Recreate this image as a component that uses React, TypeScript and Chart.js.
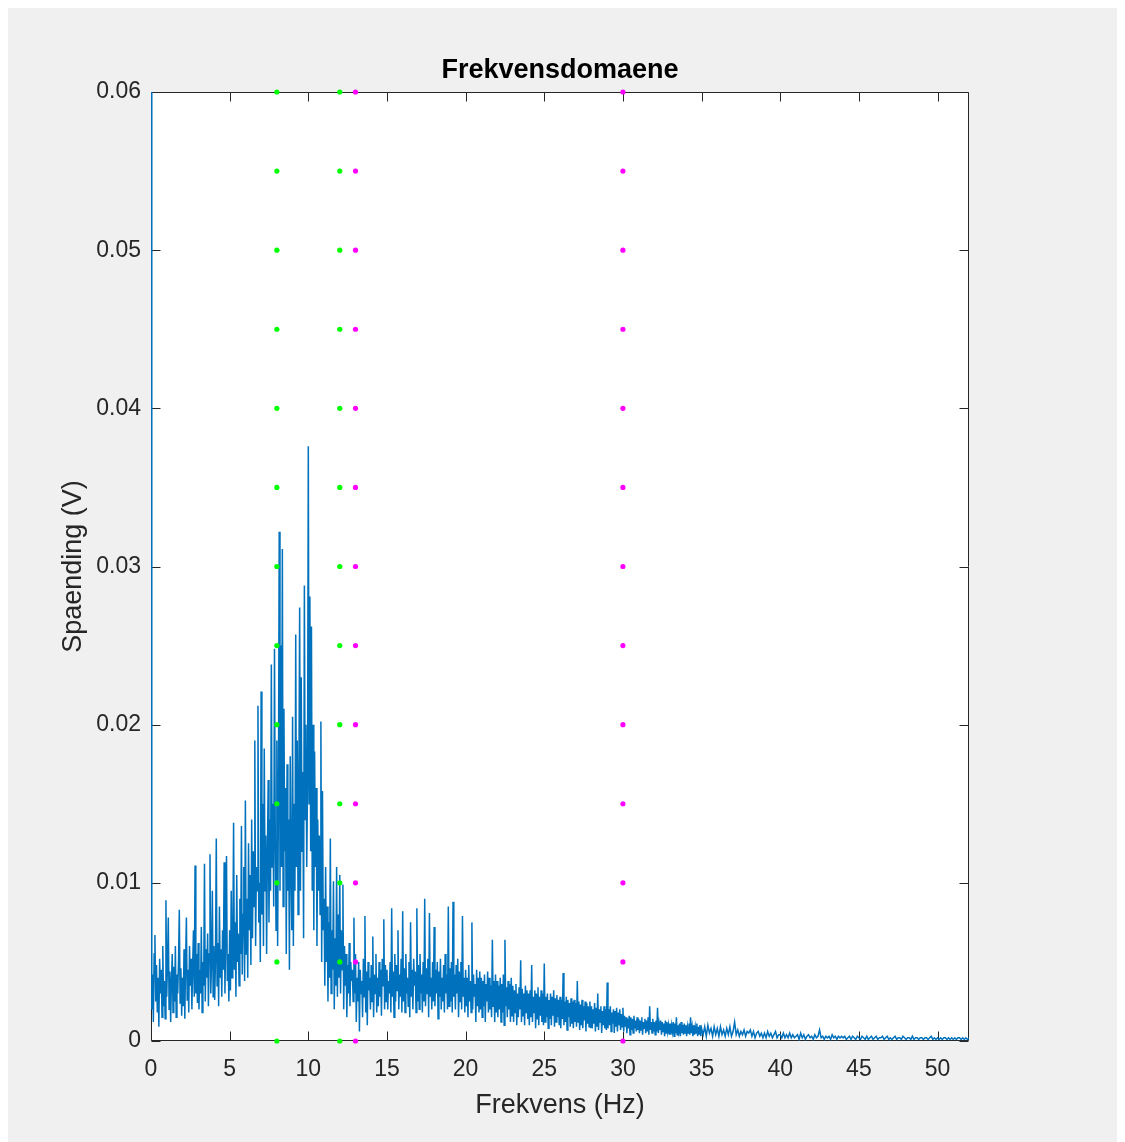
import React, { useEffect, useRef } from 'react';
import { Chart, registerables } from 'chart.js';

Chart.register(...registerables);

// ---- texts ----
const titleText = 'Frekvensdomaene';
const xLabel = 'Frekvens (Hz)';
const yLabel = 'Spaending (V)';

// ---- axes ----
const xMin = 0;
const xMax = 52;
const xTickStep = 5;
const yMin = 0;
const yMax = 0.06;
const yTickStep = 0.01;

// ---- spectrum values, in units of 1e-4 V ----
const amplitudeUnit = 1e-4;
// dense part: one value every 0.05 Hz from 0 Hz up to 34.95 Hz (20 values per Hz row)
const denseStartHz = 0;
const denseStepHz = 0.05;
// tail: one value every 0.1 Hz from 35 Hz to 52 Hz
const tailStartHz = 35;
const tailStepHz = 0.1;

const spectrum0to12 = [
  700, 20, 42, 12, 55, 67, 25, 48, 18, 40, 9, 52, 30, 45, 15, 60, 22, 38, 14, 89,
  28, 50, 78, 20, 44, 12, 38, 55, 18, 47, 25, 60, 15, 42, 30, 50, 83, 24, 46, 16,
  40, 22, 58, 14, 50, 78, 26, 45, 18, 60, 35, 52, 20, 48, 70, 28, 111, 30, 55, 24,
  62, 20, 45, 30, 72, 18, 50, 35, 112, 25, 58, 40, 68, 22, 55, 118, 30, 50, 95, 28,
  60, 26, 52, 128, 35, 62, 22, 85, 40, 58, 28, 70, 45, 113, 30, 65, 117, 38, 55, 25,
  70, 32, 95, 40, 60, 138, 45, 75, 28, 105, 50, 68, 35, 90, 55, 136, 42, 80, 110, 38,
  152, 55, 90, 40, 125, 70, 105, 48, 140, 65, 120, 85, 190, 60, 110, 95, 212, 75, 100, 50,
  221, 80, 150, 60, 185, 95, 130, 55, 120, 165, 75, 140, 95, 238, 110, 150, 85, 248, 130, 70,
  190, 60, 150, 322, 95, 250, 110, 311, 85, 210, 120, 160, 55, 175, 95, 140, 45, 180, 110, 70,
  205, 60, 150, 95, 257, 110, 190, 80, 160, 274, 95, 230, 120, 170, 65, 288, 140, 200, 110, 160,
  376, 150, 281, 120, 262, 95, 200, 70, 183, 110, 160, 60, 140, 95, 130, 80, 202, 50, 158, 70,
  90, 35, 110, 50, 85, 25, 75, 40, 128, 30, 70, 45, 101, 20, 65, 35, 110, 28, 80, 40,
];

const spectrum12to24 = [
  105, 30, 70, 45, 99, 20, 60, 35, 55, 15, 48, 30, 62, 22, 50, 38, 45, 25, 78, 30,
  55, 12, 40, 25, 50, 6, 45, 30, 38, 15, 52, 28, 79, 18, 44, 10, 50, 32, 40, 20,
  48, 25, 66, 15, 42, 30, 55, 18, 40, 22, 50, 28, 45, 16, 52, 35, 77, 20, 48, 25,
  45, 20, 38, 30, 50, 18, 84, 28, 44, 15, 55, 25, 48, 32, 70, 20, 42, 28, 52, 18,
  82, 25, 46, 18, 55, 30, 40, 22, 50, 15, 75, 28, 45, 20, 52, 35, 44, 18, 84, 25,
  48, 20, 55, 30, 42, 18, 50, 25, 90, 22, 46, 30, 52, 15, 81, 28, 40, 20, 50, 25,
  72, 22, 45, 30, 50, 14, 44, 28, 52, 20, 40, 25, 48, 18, 55, 30, 42, 20, 85, 22,
  46, 25, 50, 18, 88, 28, 42, 20, 48, 30, 52, 15, 44, 25, 50, 20, 79, 28, 40, 18,
  45, 22, 40, 15, 48, 25, 38, 18, 75, 20, 42, 28, 36, 12, 45, 22, 40, 18, 44, 20,
  40, 15, 38, 22, 42, 12, 36, 25, 44, 18, 40, 20, 35, 15, 64, 22, 38, 12, 42, 18,
  38, 15, 35, 20, 40, 12, 36, 18, 42, 10, 64, 22, 34, 15, 38, 20, 36, 12, 40, 16,
  35, 12, 32, 18, 36, 10, 30, 15, 34, 20, 51, 12, 33, 16, 30, 10, 35, 18, 32, 14,
];

const spectrum24to35 = [
  30, 10, 32, 15, 48, 12, 28, 18, 32, 8, 30, 14, 34, 10, 28, 16, 32, 12, 30, 10,
  49, 12, 28, 15, 30, 8, 26, 14, 30, 10, 28, 16, 32, 9, 27, 12, 29, 15, 26, 10,
  28, 8, 26, 14, 43, 10, 25, 12, 28, 7, 26, 15, 24, 9, 27, 11, 25, 8, 26, 12,
  24, 9, 38, 12, 25, 7, 23, 10, 26, 8, 22, 13, 25, 6, 24, 11, 22, 9, 25, 8,
  22, 8, 20, 11, 24, 6, 21, 9, 30, 7, 20, 12, 22, 5, 19, 10, 22, 8, 20, 7,
  37, 8, 20, 10, 22, 6, 18, 11, 20, 5, 19, 9, 21, 6, 18, 10, 20, 7, 17, 9,
  21, 6, 16, 9, 15, 5, 14, 8, 16, 4, 15, 7, 14, 5, 16, 8, 13, 6, 15, 7,
  14, 5, 13, 7, 15, 4, 12, 8, 14, 5, 13, 6, 15, 4, 22, 7, 12, 5, 14, 6,
  12, 4, 13, 6, 21, 5, 11, 7, 13, 4, 12, 6, 11, 3, 13, 5, 12, 6, 10, 4,
  11, 4, 10, 6, 12, 3, 11, 5, 15, 4, 10, 6, 11, 3, 12, 5, 10, 4, 11, 5,
  10, 3, 9, 5, 11, 4, 15, 5, 9, 3, 10, 4, 9, 5, 11, 3, 9, 4, 10, 3,
];

const spectrumTail = [
  8, 4, 9, 3, 10, 5, 8, 3, 9, 4,
  8, 3, 9, 4, 7, 3, 8, 4, 9, 3,
  6, 12, 4, 7, 3, 6, 4, 7, 3, 6,
  5, 7, 3, 6, 2, 5, 6, 3, 5, 2,
  5, 2, 6, 3, 5, 2, 4, 6, 2, 4,
  4, 2, 5, 2, 4, 2, 5, 2, 4, 2,
  3, 4, 1, 5, 2, 4, 1, 3, 4, 2,
  3, 1, 4, 2, 3, 7, 2, 3, 1, 3,
  2, 3, 1, 4, 2, 3, 1, 3, 2, 3,
  2, 3, 1, 2, 3, 1, 3, 2, 1, 3,
  2, 1, 3, 2, 1, 3, 1, 2, 3, 1,
  2, 3, 1, 2, 2, 3, 1, 2, 3, 1,
  2, 1, 2, 3, 1, 2, 2, 1, 3, 2,
  1, 2, 2, 1, 3, 1, 2, 2, 1, 2,
  2, 1, 2, 2, 1, 2, 3, 1, 2, 1,
  2, 1, 2, 1, 2, 2, 1, 2, 1, 2,
  1, 2, 1, 2, 2, 1, 2, 1, 2, 1,
  2,
];

// ---- marker columns ----
const greenMarkerFreqs = [8, 12];
const magentaMarkerFreqs = [13, 30];
const markerLevels = [0, 0.005, 0.01, 0.015, 0.02, 0.025, 0.03, 0.035, 0.04, 0.045, 0.05, 0.055, 0.06];

// ---- colours / fonts ----
const lineColor = '#0072BD';
const greenColor = '#00ff00';
const magentaColor = '#ff00ff';
const axisColor = '#262626';
const fontFamily = "'Liberation Sans', Arial, Helvetica, sans-serif";

const CANVAS_W = 1117;
const CANVAS_H = 1134;

const framePlugin = {
  id: 'matlabFrame',
  beforeDraw(chart: any) {
    const { ctx, chartArea: a } = chart;
    ctx.save();
    ctx.fillStyle = '#ffffff';
    ctx.fillRect(a.left, a.top, a.right - a.left, a.bottom - a.top);
    ctx.restore();
  },
  beforeDatasetsDraw(chart: any) {
    const { ctx, chartArea: a, scales } = chart;
    const L = Math.round(a.left) + 0.5;
    const R = Math.round(a.right) - 0.5;
    const T = Math.round(a.top) + 0.5;
    const B = Math.round(a.bottom) - 0.5;
    const tl = 9;
    ctx.save();
    ctx.strokeStyle = axisColor;
    ctx.lineWidth = 1;
    ctx.beginPath();
    ctx.rect(L, T, R - L, B - T);
    scales.x.ticks.forEach((t: any) => {
      const px = Math.round(scales.x.getPixelForValue(t.value)) + 0.5;
      ctx.moveTo(px, B);
      ctx.lineTo(px, B - tl);
      ctx.moveTo(px, T);
      ctx.lineTo(px, T + tl);
    });
    scales.y.ticks.forEach((t: any) => {
      const py = Math.round(scales.y.getPixelForValue(t.value)) + 0.5;
      ctx.moveTo(L, py);
      ctx.lineTo(L + tl, py);
      ctx.moveTo(R, py);
      ctx.lineTo(R - tl, py);
    });
    ctx.stroke();
    ctx.restore();
  },
};

export default function App() {
  const canvasRef = useRef<HTMLCanvasElement | null>(null);

  useEffect(() => {
    if (!canvasRef.current) return;
    const dense = [...spectrum0to12, ...spectrum12to24, ...spectrum24to35];
    const lineData = [
      ...dense.map((v, i) => ({ x: denseStartHz + i * denseStepHz, y: v * amplitudeUnit })),
      ...spectrumTail.map((v, i) => ({ x: tailStartHz + i * tailStepHz, y: v * amplitudeUnit })),
    ];
    const markerPoints = (freqs: number[]) =>
      freqs.flatMap((f) => markerLevels.map((y) => ({ x: f, y })));

    const markerDataset = (freqs: number[], color: string) => ({
      type: 'line' as const,
      data: markerPoints(freqs),
      showLine: false,
      pointRadius: 2.6,
      pointBorderWidth: 0,
      pointBackgroundColor: color,
      pointBorderColor: color,
      clip: false as any,
    });

    const chart = new Chart(canvasRef.current, {
      type: 'line',
      data: {
        datasets: [
          markerDataset(greenMarkerFreqs, greenColor),
          markerDataset(magentaMarkerFreqs, magentaColor),
          {
            type: 'line',
            data: lineData,
            borderColor: lineColor,
            borderWidth: 1.5,
            pointRadius: 0,
            tension: 0,
          },
        ],
      },
      options: {
        responsive: false,
        animation: false,
        events: [],
        layout: { padding: { top: 0, left: 0, right: 156, bottom: 0 } },
        plugins: {
          legend: { display: false },
          tooltip: { enabled: false },
          title: {
            display: true,
            text: titleText,
            color: '#000000',
            fullSize: false,
            font: { family: fontFamily, size: 27, weight: 'bold', lineHeight: 1.2 },
            padding: { top: 46, bottom: 5.6 },
          },
        },
        scales: {
          x: {
            type: 'linear',
            min: xMin,
            max: xMax,
            grid: { display: false, drawTicks: false, tickLength: 0 },
            border: { display: false },
            ticks: {
              stepSize: xTickStep,
              includeBounds: false,
              autoSkip: false,
              maxRotation: 0,
              padding: 15,
              color: axisColor,
              font: { family: fontFamily, size: 23 },
            },
            title: {
              display: true,
              text: xLabel,
              color: axisColor,
              font: { family: fontFamily, size: 27, lineHeight: 1.2 },
              padding: { top: 0, bottom: 20 },
            },
            afterFit: (s: any) => {
              s.height = 101;
            },
          },
          y: {
            type: 'linear',
            min: yMin,
            max: yMax,
            grid: { display: false, drawTicks: false, tickLength: 0 },
            border: { display: false },
            ticks: {
              stepSize: yTickStep,
              includeBounds: false,
              autoSkip: false,
              padding: 10,
              color: axisColor,
              font: { family: fontFamily, size: 23 },
              callback: (v: any) => (Math.abs(v) < 1e-12 ? '0' : Number(v).toFixed(2)),
            },
            title: {
              display: true,
              text: yLabel,
              color: axisColor,
              font: { family: fontFamily, size: 27, lineHeight: 1.2 },
              padding: { top: 49, bottom: 0 },
            },
            afterFit: (s: any) => {
              s.width = 143;
            },
          },
        },
      },
      plugins: [framePlugin],
    });
    return () => chart.destroy();
  }, []);

  return (
    <div style={{ width: CANVAS_W, height: CANVAS_H, background: '#f0f0f0' }}>
      <canvas ref={canvasRef} width={CANVAS_W} height={CANVAS_H} style={{ display: 'block' }} />
    </div>
  );
}
